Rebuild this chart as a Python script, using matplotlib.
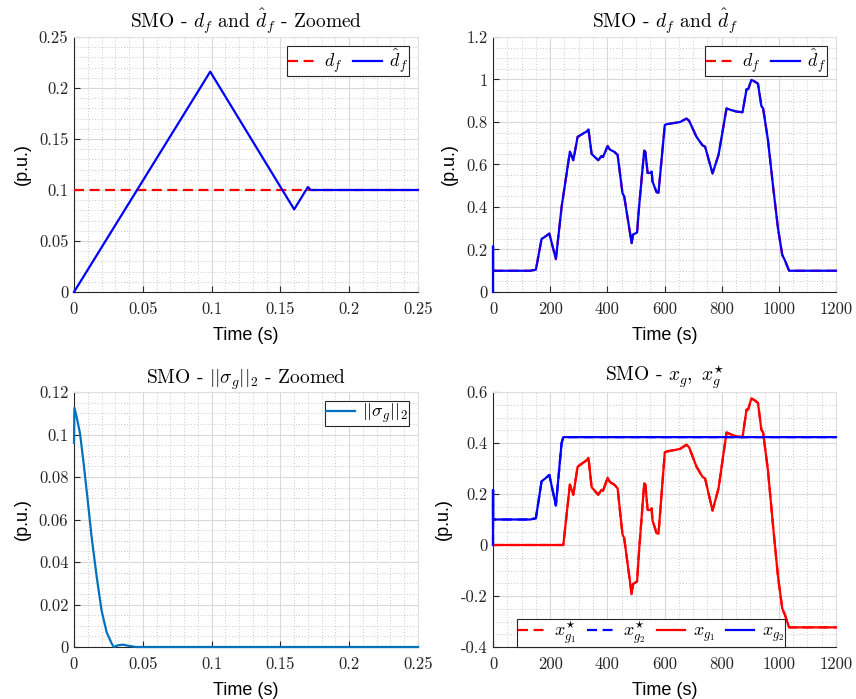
import matplotlib
matplotlib.use("Agg")
import matplotlib.pyplot as plt
from matplotlib.ticker import MultipleLocator, FuncFormatter

plt.rcParams['mathtext.fontset'] = 'cm'
plt.rcParams['axes.unicode_minus'] = False

# ---------------- data ----------------
# Top-left (zoomed d_f and d_hat_f)
tz_df = [0.0, 0.25]
dz_f = [0.1, 0.1]
tz_dhat = [0.0, 0.099, 0.16, 0.17, 0.172, 0.25]
dz_hat = [0.0, 0.216, 0.081, 0.103, 0.1, 0.1]

# Top-right (full d_f and d_hat_f)
t_long = [0.17, 130, 150, 170, 182, 197, 220, 240, 269, 275, 281, 296, 327, 334, 345, 368, 380, 385,
          401, 409, 424, 436, 444, 453, 459, 485, 490, 504, 511, 529, 533, 541, 549, 555, 558, 572,
          579, 601, 609, 642, 655, 668, 677, 686, 712, 733, 742, 768, 789, 817, 834, 852, 873, 887,
          893, 904, 916, 927, 939, 945, 962, 980, 997, 1012, 1021, 1036, 1200]
d_long = [0.1, 0.1, 0.105, 0.25, 0.26, 0.275, 0.155, 0.40, 0.66, 0.64, 0.62, 0.73, 0.755, 0.765, 0.65,
          0.62, 0.64, 0.635, 0.687, 0.67, 0.66, 0.645, 0.56, 0.465, 0.45, 0.23, 0.27, 0.28, 0.40, 0.665,
          0.66, 0.56, 0.56, 0.567, 0.52, 0.47, 0.467, 0.786, 0.79, 0.797, 0.80, 0.81, 0.816, 0.806, 0.73,
          0.69, 0.684, 0.558, 0.645, 0.864, 0.856, 0.849, 0.846, 0.954, 0.955, 0.998, 0.99, 0.98, 0.875,
          0.864, 0.715, 0.495, 0.30, 0.174, 0.15, 0.1, 0.1]
t_spike = [0.0, 0.1, 0.17]
d_spike = [0.0, 0.216, 0.1]

# Bottom-left (sigma norm)
t_sig = [0.0, 0.0003, 0.002, 0.0044, 0.0068, 0.0097, 0.0128, 0.0165, 0.020, 0.0237, 0.0274, 0.029,
         0.032, 0.0355, 0.040, 0.045, 0.25]
sig = [0.096, 0.1125, 0.108, 0.1004, 0.0875, 0.0706, 0.0518, 0.033, 0.0173, 0.007, 0.0016, 0.0,
       0.0008, 0.0011, 0.0005, 0.0, 0.0]

# Bottom-right (x_g1, x_g2)
t_xg2 = [0.0, 0.1, 0.17, 130, 150, 170, 182, 197, 220, 240, 246, 1200]
x_g2 = [0.0, 0.216, 0.1, 0.1, 0.105, 0.25, 0.26, 0.275, 0.155, 0.40, 0.423, 0.423]
t_xg1 = [0.0, 246, 269, 275, 281, 296, 327, 334, 345, 368, 380, 385, 401, 409, 424, 436, 444, 453, 459,
         485, 490, 504, 511, 529, 533, 541, 549, 555, 558, 572, 579, 601, 609, 642, 655, 668, 677,
         686, 712, 733, 742, 768, 789, 817, 834, 852, 873, 887, 893, 904, 916, 927, 939, 945, 962,
         980, 997, 1012, 1021, 1036, 1200]
x_g1 = [0.0, 0.0, 0.237, 0.217, 0.197, 0.307, 0.332, 0.342, 0.227, 0.197, 0.217, 0.212, 0.264, 0.247,
        0.237, 0.222, 0.137, 0.042, 0.027, -0.193, -0.153, -0.143, -0.023, 0.242, 0.237, 0.137, 0.137,
        0.144, 0.097, 0.047, 0.044, 0.363, 0.367, 0.374, 0.377, 0.387, 0.393, 0.383, 0.307, 0.267,
        0.261, 0.135, 0.222, 0.441, 0.433, 0.426, 0.423, 0.531, 0.532, 0.575, 0.567, 0.557, 0.452,
        0.441, 0.292, 0.072, -0.123, -0.249, -0.273, -0.323, -0.323]

# ---------------- figure ----------------
fig = plt.figure(figsize=(8.56, 6.99), dpi=100)
W, H = 856, 699

def make_ax(l, t, r, b):
    return fig.add_axes([l / W, 1 - b / H, (r - l) / W, (b - t) / H])

ax1 = make_ax(74, 37, 418, 292)
ax2 = make_ax(493, 37, 836, 292)
ax3 = make_ax(74, 392, 418, 647)
ax4 = make_ax(493, 392, 836, 647)

fmt = FuncFormatter(lambda v, p: ('%g' % round(v, 6)))
LW = 1.6
matlab_blue = (0.0, 0.447, 0.741)

def style(ax, xlim, ylim, xmaj, xmin, ymaj, ymin):
    ax.set_xlim(*xlim)
    ax.set_ylim(*ylim)
    ax.xaxis.set_major_locator(MultipleLocator(xmaj))
    ax.xaxis.set_minor_locator(MultipleLocator(xmin))
    ax.yaxis.set_major_locator(MultipleLocator(ymaj))
    ax.yaxis.set_minor_locator(MultipleLocator(ymin))
    ax.xaxis.set_major_formatter(fmt)
    ax.yaxis.set_major_formatter(fmt)
    ax.grid(True, which='major', color='#d9d9d9', lw=0.8)
    ax.grid(True, which='minor', color='#b8b8b8', lw=0.6, ls=(0, (1, 2.5)))
    ax.set_axisbelow(True)
    ax.tick_params(which='both', direction='in', top=False, right=False)
    ax.tick_params(which='major', length=4, width=0.8, colors='#262626')
    ax.tick_params(axis='x', which='major', pad=7)
    ax.tick_params(axis='y', which='major', pad=4)
    ax.tick_params(which='minor', length=0)
    for lab in ax.get_xticklabels() + ax.get_yticklabels():
        lab.set_fontfamily('cmr10')
        lab.set_fontsize(12)
    for s in ('top', 'right'):
        ax.spines[s].set_color('#e0e0e0')
    for s in ('left', 'bottom'):
        ax.spines[s].set_color('#262626')
        ax.spines[s].set_linewidth(0.8)
    ax.set_xlabel('Time (s)', fontfamily='Liberation Sans', fontsize=13, labelpad=7)
    ax.set_ylabel('(p.u.)', fontfamily='Liberation Sans', fontsize=13, labelpad=6)

def title(ax, s):
    ax.set_title(s, fontfamily='cmr10', fontsize=14, pad=5)

def legend(ax, **kw):
    leg = ax.legend(fancybox=False, framealpha=1, edgecolor='#262626', fontsize=13,
                    handlelength=1.6, handletextpad=0.4, columnspacing=0.6,
                    borderpad=0.05, borderaxespad=0, **kw)
    leg.get_frame().set_linewidth(0.8)
    return leg

DASH = (4.5, 2.5)

def line(ax, x, y, **kw):
    ax.plot(x, y, lw=LW, zorder=3, clip_on=False, **kw)

# ax1
line(ax1, tz_df, dz_f, color='r', ls='--', dashes=DASH, label=r'$d_f$')
line(ax1, tz_dhat, dz_hat, color='b', label=r'$\hat{d}_f$')
style(ax1, (0, 0.25), (0, 0.25), 0.05, 0.01, 0.05, 0.01)
title(ax1, r'SMO - $d_f$ and $\hat{d}_f$ - Zoomed')
legend(ax1, ncol=2, loc='upper right', bbox_to_anchor=(1 - 9 / 344, 1 - 9 / 255))

# ax2
line(ax2, t_long, d_long, color='r', ls='--', dashes=DASH, label=r'$d_f$')
line(ax2, t_spike + t_long[1:], d_spike + d_long[1:], color='b', label=r'$\hat{d}_f$')
style(ax2, (0, 1200), (0, 1.2), 200, 50, 0.2, 0.05)
title(ax2, r'SMO - $d_f$ and $\hat{d}_f$')
legend(ax2, ncol=2, loc='upper right', bbox_to_anchor=(1 - 9 / 343, 1 - 9 / 255))

# ax3
line(ax3, t_sig, sig, color=matlab_blue, label=r'$||\sigma_g||_2$')
style(ax3, (0, 0.25), (0, 0.12), 0.05, 0.01, 0.02, 0.005)
title(ax3, r'SMO - $||\sigma_g||_2$ - Zoomed')
legend(ax3, ncol=1, loc='upper right', bbox_to_anchor=(1 - 9 / 344, 1 - 9 / 255))

# ax4
line(ax4, t_xg1, x_g1, color='r', ls='--', dashes=DASH, label=r'$x_{g_1}^{\star}$')
line(ax4, t_xg2, x_g2, color='b', ls='--', dashes=DASH, label=r'$x_{g_2}^{\star}$')
line(ax4, t_xg1, x_g1, color='r', label=r'$x_{g_1}$')
line(ax4, t_xg2, x_g2, color='b', label=r'$x_{g_2}$')
style(ax4, (0, 1200), (-0.4, 0.6), 200, 50, 0.2, 0.05)
title(ax4, r'SMO - $x_g,\ x_g^{\star}$')
legend(ax4, ncol=4, loc='lower center', bbox_to_anchor=(0.461, 0.0))

fig.savefig('out.png', dpi=100)
